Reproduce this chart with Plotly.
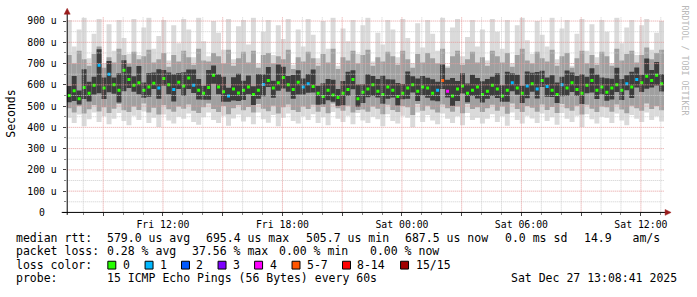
import plotly.graph_objects as go
import pandas as pd

# ---------------- data (15-minute columns) ----------------
median = [550, 572, 535, 588, 560, 598, 692, 585, 650, 600, 575, 668,
          625, 598, 610, 575, 590, 608, 585, 630, 600, 578, 612, 595,
          632, 598, 575, 560, 588, 645, 590, 568, 548, 580, 562, 575,
          590, 555, 575, 602, 620, 585, 610, 635, 600, 578, 612, 590,
          605, 592, 560, 545, 575, 552, 540, 560, 578, 625, 535, 565,
          580, 600, 570, 555, 590, 575, 545, 560, 585, 600, 570, 590,
          585, 560, 575, 620, 570, 548, 580, 595, 560, 575, 590, 555,
          570, 598, 580, 548, 575, 610, 585, 560, 595, 605, 580, 620,
          592, 575, 555, 600, 585, 610, 578, 560, 598, 620, 575, 590,
          565, 585, 600, 575, 605, 590, 625, 610, 640, 620, 645, 605]

smoke_max = [905, 780, 860, 915, 725, 840, 910, 700, 885, 760, 905, 820,
             745, 910, 740, 870, 915, 770, 830, 905, 715, 880, 795, 910,
             860, 730, 915, 805, 735, 900, 845, 765, 910, 720, 875, 905,
             790, 915, 700, 850, 905, 740, 880, 815, 910, 695, 860, 780,
             910, 835, 725, 900, 770, 915, 690, 865, 805, 905, 745, 880,
             915, 710, 845, 790, 905, 860, 730, 910, 820, 700, 890, 775,
             905, 840, 760, 915, 690, 870, 910, 735, 825, 905, 780, 860,
             715, 910, 850, 770, 905, 700, 880, 915, 810, 745, 900, 835,
             780, 915, 720, 865, 905, 690, 840, 910, 760, 885, 730, 905,
             850, 700, 915, 795, 870, 905, 740, 880, 910, 765, 845, 900]

smoke_min = [445, 420, 460, 405, 438, 470, 425, 452, 415, 440, 468, 430,
             410, 455, 435, 475, 420, 445, 402, 460, 432, 418, 450, 440,
             465, 425, 412, 448, 470, 435, 420, 455, 408, 442, 460, 428,
             450, 415, 470, 438, 422, 458, 405, 445, 465, 430, 418, 452,
             435, 462, 420, 448, 410, 472, 440, 425, 455, 415, 468, 432,
             420, 450, 438, 405, 462, 430, 418, 455, 445, 400, 470, 425,
             458, 432, 415, 465, 440, 420, 452, 410, 468, 435, 445, 418,
             440, 462, 425, 452, 408, 470, 435, 418, 455, 442, 420, 465,
             430, 448, 412, 468, 440, 425, 455, 402, 462, 438, 418, 450,
             445, 420, 465, 432, 410, 458, 440, 425, 470, 435, 452, 428]

band_hi = [740, 700, 760, 720, 690, 745, 780, 680, 730, 705, 770, 740,
           700, 755, 720, 735, 765, 705, 720, 750, 685, 740, 710, 760,
           730, 695, 770, 715, 710, 750, 735, 700, 765, 690, 725, 755,
           705, 760, 680, 740, 750, 700, 735, 720, 765, 675, 730, 710,
           755, 725, 690, 745, 705, 770, 675, 730, 715, 760, 700, 740,
           765, 690, 730, 710, 755, 735, 695, 760, 720, 680, 745, 705,
           750, 725, 700, 770, 680, 735, 760, 695, 720, 755, 705, 730,
           690, 760, 735, 705, 750, 685, 740, 770, 715, 700, 755, 725,
           710, 765, 690, 735, 750, 680, 725, 760, 700, 740, 695, 755,
           735, 690, 770, 715, 745, 760, 705, 740, 775, 720, 750, 765]

band_lo = [490, 470, 500, 465, 485, 505, 475, 495, 468, 488, 510, 480,
           472, 498, 482, 512, 470, 492, 460, 505, 485, 474, 498, 488,
           508, 478, 468, 495, 512, 486, 472, 500, 462, 490, 505, 480,
           496, 470, 510, 488, 476, 502, 465, 494, 508, 482, 472, 498,
           486, 506, 474, 496, 466, 512, 490, 478, 502, 470, 482, 484,
           474, 498, 488, 462, 506, 482, 472, 500, 494, 458, 510, 478,
           502, 484, 470, 508, 490, 474, 498, 466, 510, 486, 494, 472,
           490, 506, 478, 498, 464, 512, 486, 472, 500, 492, 474, 508,
           482, 496, 468, 510, 490, 478, 502, 460, 506, 488, 472, 498,
           494, 474, 508, 484, 466, 502, 490, 478, 512, 486, 500, 480]

core_lo = [518, 524, 507, 533, 522, 554, 560, 533, 565, 558, 517, 570,
           585, 568, 556, 539, 544, 580, 535, 596, 556, 522, 580, 547,
           580, 562, 531, 530, 530, 605, 556, 520, 520, 526, 524, 529,
           556, 505, 535, 546, 590, 539, 572, 583, 568, 534, 554, 554,
           563, 564, 506, 509, 527, 520, 500, 504, 548, 579, 497, 515,
           542, 548, 540, 511, 534, 541, 503, 532, 535, 564, 524, 550,
           539, 526, 523, 580, 540, 500, 524, 559, 518, 547, 536, 517,
           534, 548, 538, 520, 521, 570, 553, 514, 537, 567, 536, 590,
           544, 543, 515, 546, 549, 566, 548, 510, 560, 564, 533, 556,
           525, 531, 566, 529, 575, 538, 587, 566, 582, 588, 597, 569]

core_hi = [595, 642, 573, 673, 615, 638, 767, 635, 712, 635, 655, 716,
           685, 640, 688, 611, 656, 658, 673, 670, 658, 650, 656, 659,
           672, 672, 627, 596, 670, 691, 650, 638, 586, 636, 652, 619,
           644, 593, 651, 650, 684, 619, 696, 685, 642, 646, 668, 630,
           651, 672, 596, 607, 627, 624, 580, 618, 662, 669, 601, 603,
           650, 642, 628, 643, 626, 625, 609, 604, 663, 640, 630, 642,
           633, 626, 615, 696, 624, 632, 618, 655, 606, 647, 632, 617,
           628, 638, 654, 598, 661, 654, 647, 596, 663, 657, 660, 666,
           634, 645, 611, 638, 667, 658, 642, 650, 638, 678, 649, 634,
           631, 629, 680, 627, 645, 662, 681, 648, 724, 670, 707, 651]

lost_pings = [0, 0, 0, 0, 0, 0, 1, 0, 1, 0, 0, 0,
              0, 0, 0, 0, 0, 0, 1, 0, 0, 1, 0, 0,
              0, 1, 0, 0, 0, 0, 0, 0, 1, 0, 0, 0,
              0, 0, 0, 1, 0, 0, 0, 0, 0, 0, 0, 1,
              1, 0, 0, 0, 0, 0, 0, 0, 0, 0, 0, 0,
              0, 0, 0, 0, 0, 0, 0, 0, 0, 0, 0, 0,
              0, 0, 1, 6, 4, 0, 0, 0, 0, 0, 0, 0,
              0, 0, 0, 0, 0, 1, 0, 0, 1, 0, 1, 0,
              1, 0, 0, 1, 0, 0, 0, 0, 0, 0, 0, 0,
              0, 0, 0, 0, 1, 0, 1, 0, 0, 0, 0, 0]

loss_labels = ["0", "1", "2", "3", "4", "5-7", "8-14", "15/15"]
loss_colors = ["#26ff00", "#00b8ff", "#0059ff", "#7e00ff", "#ff00ff",
               "#ff5500", "#ff0000", "#a10000"]

y_ticks = [0, 100, 200, 300, 400, 500, 600, 700, 800, 900]
y_labels = ["0\u00a0\u00a0", "100\u00a0u", "200\u00a0u", "300\u00a0u", "400\u00a0u",
            "500\u00a0u", "600\u00a0u", "700\u00a0u", "800\u00a0u", "900\u00a0u"]

t_start = pd.Timestamp("2025-12-26 07:10")
t_end = pd.Timestamp("2025-12-27 13:10")

legend_rows = [
    ("median rtt:", [(107.3, "579.0 us avg"), (206.7, "695.4 us max"), (307.3, "505.7 us min"),
                     (406.7, "687.5 us now"), (506.7, "0.0 ms sd"), (586.7, "14.9   am/s")]),
    ("packet loss:", [(107.3, "0.28 % avg"), (193.3, "37.56 % max"), (280.0, "0.00 % min"),
                      (372.0, "0.00 % now")]),
    ("loss color:", []),
    ("probe:", [(107.3, "15 ICMP Echo Pings (56 Bytes) every 60s"), (513.3, "Sat Dec 27 13:08:41 2025")]),
]

# ---------------- layout constants ----------------
W, H = 697, 297
PL, PR, PT, PB = 67, 667, 15.5, 215.5
Y_MAX = 918.4
MONO = "DejaVu Sans Mono"
MAJOR_GRID = "#e49a9a"
MINOR_GRID = "#cdcdcd"


def px(x):
    return x / W


def py(y):
    return 1 - y / H


def loss_color(k):
    if k <= 4:
        return loss_colors[k]
    if k <= 7:
        return loss_colors[5]
    if k <= 14:
        return loss_colors[6]
    return loss_colors[7]


n = len(median)
step = (t_end - t_start) / n
centers = [t_start + step * (i + 0.5) for i in range(n)]
w_ms = step.total_seconds() * 1000

fig = go.Figure()


def band(lo, hi, color):
    fig.add_trace(go.Bar(
        x=centers, base=lo, y=[h - l for l, h in zip(lo, hi)], width=w_ms,
        marker=dict(color=color, line=dict(width=0)),
        hoverinfo="skip", showlegend=False))


band(smoke_min, smoke_max, "#dadada")
band(band_lo, band_hi, "#a0a0a0")
band(core_lo, core_hi, "#3c3c3c")

fig.add_trace(go.Scatter(
    x=centers, y=median, mode="markers",
    marker=dict(symbol="square", size=3, color=[loss_color(k) for k in lost_pings],
                line=dict(width=0)),
    hoverinfo="skip", showlegend=False))

# ticks
hours = pd.date_range("2025-12-26 08:00", "2025-12-27 13:00", freq="1h")
major = [h for h in hours if h.hour % 3 == 0]
minor = [h for h in hours if h.hour % 3 != 0]
major_text = [h.strftime("%a %H:%M") if h.hour % 6 == 0 else "" for h in major]

shapes = []
y0p, y1p = py(PB), py(PT)
for h in minor:
    shapes.append(dict(type="line", xref="x", yref="paper", x0=h, x1=h, y0=y0p, y1=y1p,
                       line=dict(color=MINOR_GRID, width=1, dash="1px,1px"), layer="above"))
for v in range(50, 900, 100):
    shapes.append(dict(type="line", xref="paper", yref="y", x0=px(PL), x1=px(PR), y0=v, y1=v,
                       line=dict(color=MINOR_GRID, width=1, dash="1px,1px"), layer="above"))
for h in major:
    shapes.append(dict(type="line", xref="x", yref="paper", x0=h, x1=h, y0=y0p, y1=y1p,
                       line=dict(color=MAJOR_GRID, width=1, dash="1px,1px"), layer="above"))
for v in y_ticks[1:]:
    shapes.append(dict(type="line", xref="paper", yref="y", x0=px(PL), x1=px(PR), y0=v, y1=v,
                       line=dict(color=MAJOR_GRID, width=1, dash="1px,1px"), layer="above"))

# axis lines and arrows
shapes.append(dict(type="line", xref="paper", yref="paper", x0=px(62), x1=px(670),
                   y0=py(PB), y1=py(PB), line=dict(color="black", width=1), layer="above"))
shapes.append(dict(type="line", xref="paper", yref="paper", x0=px(67.5), x1=px(67.5),
                   y0=py(218), y1=py(11), line=dict(color="black", width=1), layer="above"))
ARROW = "#9a1c1c"
shapes.append(dict(type="path", xref="paper", yref="paper",
                   path=f"M {px(67.5)},{py(6.5)} L {px(64.5)},{py(12.5)} L {px(70.5)},{py(12.5)} Z",
                   fillcolor=ARROW, line=dict(color=ARROW, width=0.5), layer="above"))
shapes.append(dict(type="path", xref="paper", yref="paper",
                   path=f"M {px(674)},{py(PB)} L {px(668)},{py(PB - 3)} L {px(668)},{py(PB + 3)} Z",
                   fillcolor=ARROW, line=dict(color=ARROW, width=0.5), layer="above"))

annotations = []


def txt(x, y, s, size=11.5, color="black", anchor="left", angle=0):
    annotations.append(dict(x=px(x), y=py(y), xref="paper", yref="paper", text=s.replace(" ", "\u00a0"),
                            showarrow=False, xanchor=anchor, yanchor="middle", textangle=angle,
                            borderpad=0, borderwidth=0,
                            font=dict(family=MONO, size=size, color=color)))


row_y = [241.5, 255.2, 269.2, 283.0]
for (label, items), yy in zip(legend_rows, row_y):
    txt(16, yy, label)
    for x, s in items:
        txt(x, yy, s)

swatch_x = [108.3, 145.7, 182.3, 219.0, 255.7, 293.3, 344.0, 402.3]
for sx, lab, col in zip(swatch_x, loss_labels, loss_colors):
    shapes.append(dict(type="rect", xref="paper", yref="paper", x0=px(sx), x1=px(sx + 8),
                       y0=py(273.5), y1=py(265.5), fillcolor=col, line=dict(color="black", width=1)))
    txt(sx + 15, row_y[2], lab)

txt(11.5, 114, "Seconds", angle=-90, anchor="center")
txt(688, 60, "RRDTOOL / TOBI OETIKER", size=8.3, color="#b9b9b9", anchor="center", angle=90)

fig.update_layout(
    width=W, height=H, margin=dict(l=0, r=0, t=0, b=0),
    paper_bgcolor="white", plot_bgcolor="white",
    barmode="overlay", showlegend=False,
    shapes=shapes, annotations=annotations,
    xaxis=dict(type="date", range=[t_start, t_end], domain=[px(PL), px(PR)],
               showgrid=False, zeroline=False, showline=False,
               tickmode="array", tickvals=major, ticktext=major_text,
               ticks="outside", ticklen=3, tickcolor="#444", tickwidth=1,
               tickfont=dict(family=MONO, size=9.8, color="black"),
               minor=dict(tickmode="array", tickvals=minor, ticks="outside", ticklen=2,
                          tickcolor="#888", showgrid=False)),
    yaxis=dict(range=[0, Y_MAX], domain=[py(PB), py(PT)],
               showgrid=False, zeroline=False, showline=False,
               tickmode="array", tickvals=y_ticks, ticktext=y_labels,
               ticks="outside", ticklen=3, tickcolor="#444", tickwidth=1,
               ticklabelstandoff=4,
               tickfont=dict(family=MONO, size=9.8, color="black"),
               minor=dict(tickmode="array", tickvals=list(range(50, 900, 100)), ticks="outside",
                          ticklen=2, tickcolor="#888", showgrid=False)),
)

fig.write_html("out.html")
